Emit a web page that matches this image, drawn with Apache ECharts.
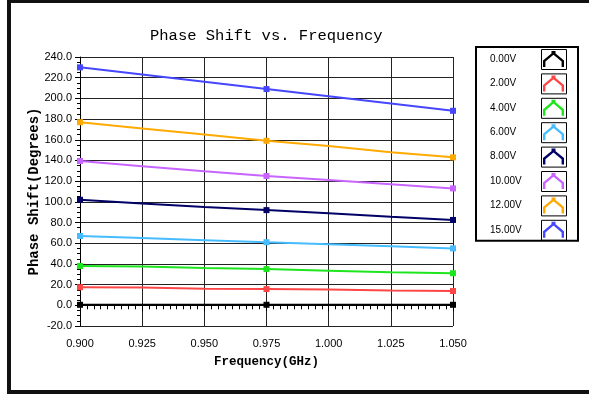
<!DOCTYPE html>
<html>
<head>
<meta charset="utf-8">
<script src="https://cdn.jsdelivr.net/npm/echarts@6/dist/echarts.min.js"></script>
<style>
  html, body { margin: 0; padding: 0; background: #fff; }
  #chart { width: 589px; height: 394px; }
</style>
</head>
<body>
<div id="chart"></div>
<script>
// data
const freqs = [0.900, 0.925, 0.950, 0.975, 1.000, 1.025, 1.050];
const seriesNames = ['0.00V', '2.00V', '4.00V', '6.00V', '8.00V', '10.00V', '12.00V', '15.00V'];
const v0 = [0.5, 0.5, 0.5, 0.5, 0.5, 0.5, 0.5];
const v2 = [17.5, 17.3, 16, 15.7, 15.3, 14.2, 13.8];
const v4 = [38, 37.5, 36, 35, 33.5, 32, 31];
const v6 = [67, 65, 63, 61, 59, 57, 55];
const v8 = [102, 98.5, 95, 92, 89, 85.5, 82.5];
const v10 = [139.5, 134.5, 129.5, 125, 121, 117, 113];
const v12 = [177, 171, 165, 159, 154, 148, 143];
const v15 = [230, 223, 216, 209, 202, 195, 188];
const colors = ['#000000', '#ff4646', '#1ee61e', '#46bcff', '#000066', '#c864ff', '#ffaa00', '#4646ff'];

const allValues = [v0, v2, v4, v6, v8, v10, v12, v15];

// chevron icon used in the legend (25 x 20 box)
const chevron = 'path://M0 0L0.01 0M25 20L24.99 20' +
    'M2 18L2 11.5L12.5 2.8L23 11.5L23 18L20.6 18L20.6 12.6L12.5 5.8L4.4 12.6L4.4 18Z' +
    'M10.5 2L14.5 2L14.5 6L10.5 6Z';

const chart = echarts.init(document.getElementById('chart'));

const series = allValues.map((vals, i) => ({
    name: seriesNames[i],
    type: 'line',
    data: freqs.map((f, j) => [f, vals[j]]),
    color: colors[i],
    symbol: 'rect',
    showAllSymbol: true,
    // only 3 markers per curve in the original
    symbolSize: (val, p) => (p.dataIndex % 3 === 0 ? 6 : 0),
    lineStyle: { width: 2 },
    emphasis: { disabled: true },
    animation: false
}));

// small black frames around the legend icons
const boxes = seriesNames.map((n, i) => ({
    type: 'rect',
    shape: { x: 541.5, y: 49.5 + i * 24.4, width: 25, height: 20 },
    style: { fill: 'none', stroke: '#000', lineWidth: 1 },
    z: 100
}));

const option = {
    animation: false,
    title: {
        text: 'Phase Shift vs. Frequency',
        left: 145,
        top: 23,
        textStyle: { fontFamily: 'Liberation Mono', fontSize: 15.5, fontWeight: 'normal', color: '#000' }
    },
    grid: { left: 80, right: 136, top: 57, bottom: 68 },
    legend: {
        orient: 'vertical',
        left: 476,
        top: 47,
        align: 'right',
        icon: chevron,
        itemWidth: 25,
        itemHeight: 20,
        itemGap: 4.4,
        padding: [2, 12, 1, 14],
        borderColor: '#000',
        borderWidth: 2,
        selectedMode: false,
        itemStyle: { borderWidth: 0 },
        formatter: name => '{t|' + name + '}',
        textStyle: {
            rich: {
                t: { width: 46, align: 'left', fontFamily: 'Liberation Sans', fontSize: 10, color: '#000' }
            }
        },
        data: seriesNames
    },
    xAxis: {
        type: 'value',
        min: 0.9,
        max: 1.05,
        interval: 0.025,
        name: 'Frequency(GHz)',
        nameLocation: 'middle',
        nameGap: 29,
        nameTextStyle: { fontFamily: 'Liberation Mono', fontSize: 12.5, fontWeight: 'bold', color: '#000' },
        axisLine: { lineStyle: { color: '#000', width: 1 } },
        axisTick: { length: 6, lineStyle: { color: '#000' } },
        minorTick: { show: true, splitNumber: 9, length: 4, lineStyle: { color: '#000' } },
        axisLabel: {
            margin: 12,
            fontFamily: 'Liberation Sans',
            fontSize: 11,
            color: '#000',
            formatter: v => v.toFixed(3)
        },
        splitLine: { show: true, lineStyle: { color: '#222', width: 1 } }
    },
    yAxis: {
        type: 'value',
        min: -20,
        max: 240,
        interval: 20,
        name: 'Phase Shift(Degrees)',
        nameLocation: 'middle',
        nameGap: 39,
        nameMoveOverlap: false,
        nameTextStyle: { fontFamily: 'Liberation Mono', fontSize: 14, fontWeight: 'bold', color: '#000' },
        axisLine: { show: true, lineStyle: { color: '#000', width: 1 } },
        axisTick: { show: true, length: 5, lineStyle: { color: '#000' } },
        minorTick: { show: true, splitNumber: 4, length: 3, lineStyle: { color: '#000' } },
        axisLabel: {
            margin: 8,
            fontFamily: 'Liberation Sans',
            fontSize: 11,
            color: '#000',
            formatter: v => v.toFixed(1)
        },
        splitLine: { show: true, lineStyle: { color: '#222', width: 1 } }
    },
    graphic: [
        // outer frame (right side is cut off in the original)
        { type: 'line', shape: { x1: 9, y1: 0, x2: 9, y2: 394 }, style: { stroke: '#111', lineWidth: 4 } },
        { type: 'line', shape: { x1: 7, y1: 1.5, x2: 589, y2: 1.5 }, style: { stroke: '#111', lineWidth: 3 } },
        { type: 'line', shape: { x1: 7, y1: 392, x2: 589, y2: 392 }, style: { stroke: '#111', lineWidth: 4 } }
    ].concat(boxes),
    series: series
};

chart.setOption(option);
</script>
</body>
</html>
